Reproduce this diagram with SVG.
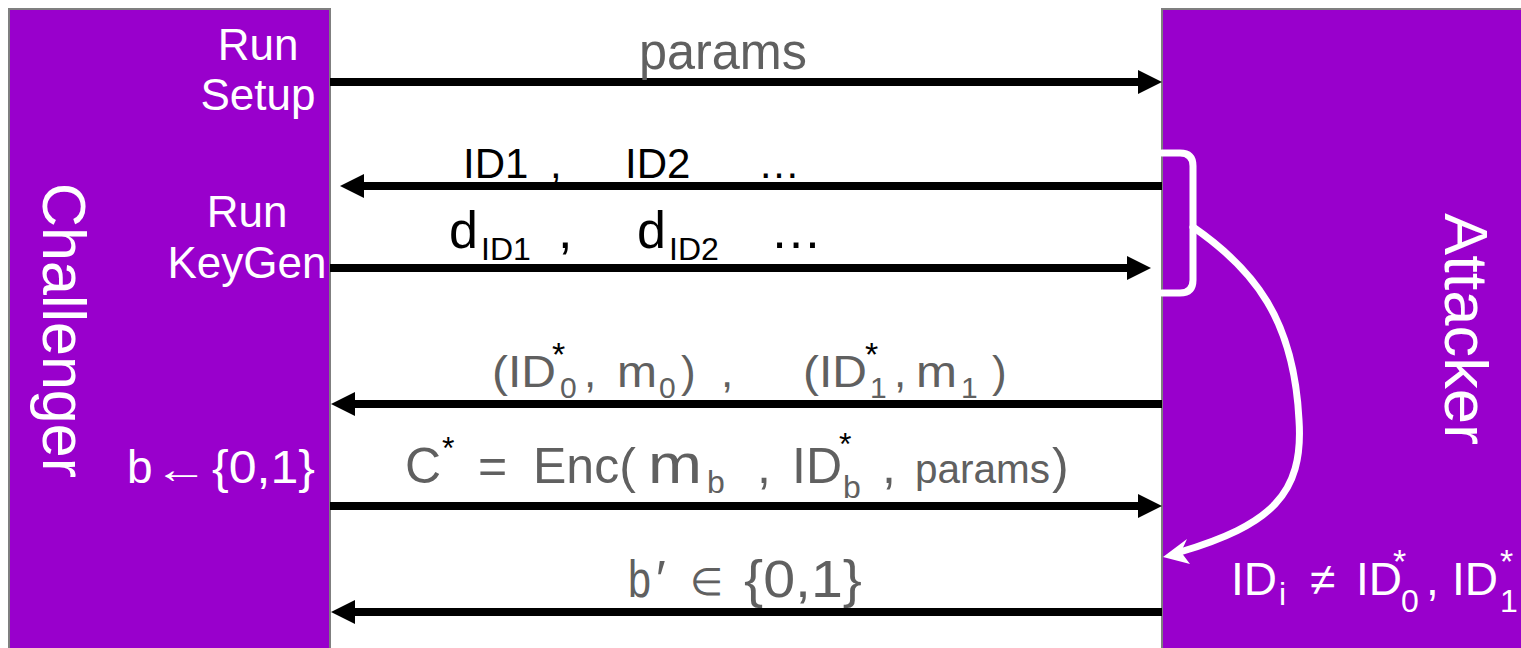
<svg xmlns="http://www.w3.org/2000/svg" width="1521" height="648" viewBox="0 0 1521 648">
<style>
.box{fill:#9900CC;stroke:#7f7f7f;stroke-width:2}
.w{fill:#ffffff;font-family:"Liberation Sans",Arial,sans-serif}
.g{fill:#606060;font-family:"Liberation Sans",Arial,sans-serif}
.k{fill:#000000;font-family:"Liberation Sans",Arial,sans-serif}
.sh{stroke:#000;stroke-width:8;fill:none}
.wl{stroke:#fff;stroke-width:7;fill:none;stroke-linecap:round}
</style>
<defs>
<marker id="ah" markerUnits="userSpaceOnUse" markerWidth="24" markerHeight="24" refX="4" refY="12" orient="auto" overflow="visible">
<path d="M0,0 L24,12 L0,24 z" fill="#000"/>
</marker>
</defs>
<g id="challenger">
<rect class="box" x="9" y="9" width="321" height="660"/>
<text class="w" font-size="62" transform="translate(43,183) rotate(90)" textLength="295" lengthAdjust="spacingAndGlyphs">Challenger</text>
<text class="w" font-size="44" text-anchor="middle" x="258" y="60">Run</text>
<text class="w" font-size="44" text-anchor="middle" x="258" y="110">Setup</text>
<text class="w" font-size="44" text-anchor="middle" x="247" y="227">Run</text>
<text class="w" font-size="44" text-anchor="middle" x="247" y="278">KeyGen</text>
<text class="w" font-size="46" y="483"><tspan x="127">b</tspan><tspan x="154" font-size="40" textLength="54" lengthAdjust="spacingAndGlyphs">←</tspan><tspan x="212" textLength="103" lengthAdjust="spacingAndGlyphs">{0,1}</tspan></text>
</g>
<g id="attacker">
<rect class="box" x="1162" y="9" width="380" height="660"/>
<text class="w" font-size="62" transform="translate(1445,213) rotate(90)" textLength="232" lengthAdjust="spacingAndGlyphs">Attacker</text>
<path class="wl" d="M1162,153 L1180,153 Q1193,153 1193,166 L1193,280 Q1193,293 1180,293 L1162,293" stroke-linecap="butt"/>
<path class="wl" d="M1193,227 C1255,270 1294,320 1299,420 C1304,495 1270,525 1180,552" stroke-width="6"/>
<polygon points="1163,557 1187,539 1181,552 1190,564" fill="#fff"/>
<text class="w" font-size="46" y="595"><tspan x="1231">ID</tspan><tspan x="1310">≠</tspan><tspan x="1356">ID</tspan><tspan x="1426">,</tspan><tspan x="1452">ID</tspan></text>
<text class="w" font-size="32"><tspan x="1279" y="605">i</tspan><tspan x="1401" y="612">0</tspan><tspan x="1500" y="612">1</tspan></text>
<text class="w" font-size="34" y="573"><tspan x="1393">*</tspan><tspan x="1500">*</tspan></text>
</g>
<g id="connectors">
<line class="sh" x1="330" y1="82" x2="1142" y2="82" marker-end="url(#ah)"/>
<line class="sh" x1="1162" y1="186" x2="360" y2="186" marker-end="url(#ah)"/>
<line class="sh" x1="330" y1="268" x2="1131" y2="268" marker-end="url(#ah)"/>
<line class="sh" x1="1162" y1="404" x2="351" y2="404" marker-end="url(#ah)"/>
<line class="sh" x1="330" y1="506" x2="1142" y2="506" marker-end="url(#ah)"/>
<line class="sh" x1="1162" y1="612" x2="351" y2="612" marker-end="url(#ah)"/>
</g>
<g id="labels">
<text class="g" font-size="52" x="639" y="69" textLength="168" lengthAdjust="spacingAndGlyphs">params</text>
<text class="k" font-size="42" y="178"><tspan x="463">ID1</tspan><tspan x="550">,</tspan><tspan x="625">ID2</tspan><tspan x="758">…</tspan></text>
<text class="k" font-size="52" y="248"><tspan x="449">d</tspan><tspan x="558">,</tspan><tspan x="637">d</tspan><tspan x="770">…</tspan></text>
<text class="k" font-size="32" y="260"><tspan x="481">ID1</tspan><tspan x="669">ID2</tspan></text>
<text class="g" font-size="44" y="387"><tspan x="492" textLength="64" lengthAdjust="spacingAndGlyphs">(ID</tspan><tspan x="584">,</tspan><tspan x="617" textLength="40" lengthAdjust="spacingAndGlyphs">m</tspan><tspan x="681">)</tspan><tspan x="721">,</tspan><tspan x="803" textLength="64" lengthAdjust="spacingAndGlyphs">(ID</tspan><tspan x="894">,</tspan><tspan x="916" textLength="41" lengthAdjust="spacingAndGlyphs">m</tspan><tspan x="992">)</tspan></text>
<text class="g" font-size="30" y="398"><tspan x="560">0</tspan><tspan x="659">0</tspan><tspan x="870">1</tspan><tspan x="961">1</tspan></text>
<text class="k" font-size="34" y="366"><tspan x="552">*</tspan><tspan x="865">*</tspan></text>
<text class="g" font-size="50" y="483"><tspan x="405">C</tspan><tspan x="478">=</tspan><tspan x="533">Enc(</tspan><tspan x="757">,</tspan><tspan x="792">ID</tspan><tspan x="882">,</tspan><tspan x="1052">)</tspan></text>
<text class="g" font-size="56" x="648" y="483" textLength="54" lengthAdjust="spacingAndGlyphs">m</text>
<text class="g" font-size="32"><tspan x="707" y="493">b</tspan><tspan x="843" y="498">b</tspan></text>
<text class="g" font-size="40" x="915" y="483" textLength="135" lengthAdjust="spacingAndGlyphs">params</text>
<text class="k" font-size="32"><tspan x="442" y="459">*</tspan><tspan x="839" y="455">*</tspan></text>
<text class="g" font-size="52" y="597"><tspan x="628" textLength="23" lengthAdjust="spacingAndGlyphs">b</tspan><tspan x="656">′</tspan></text>
<text class="g" font-size="38" x="690" y="595">∈</text>
<text class="g" font-size="52" x="744" y="597" textLength="118" lengthAdjust="spacingAndGlyphs">{0,1}</text>
</g>
</svg>
